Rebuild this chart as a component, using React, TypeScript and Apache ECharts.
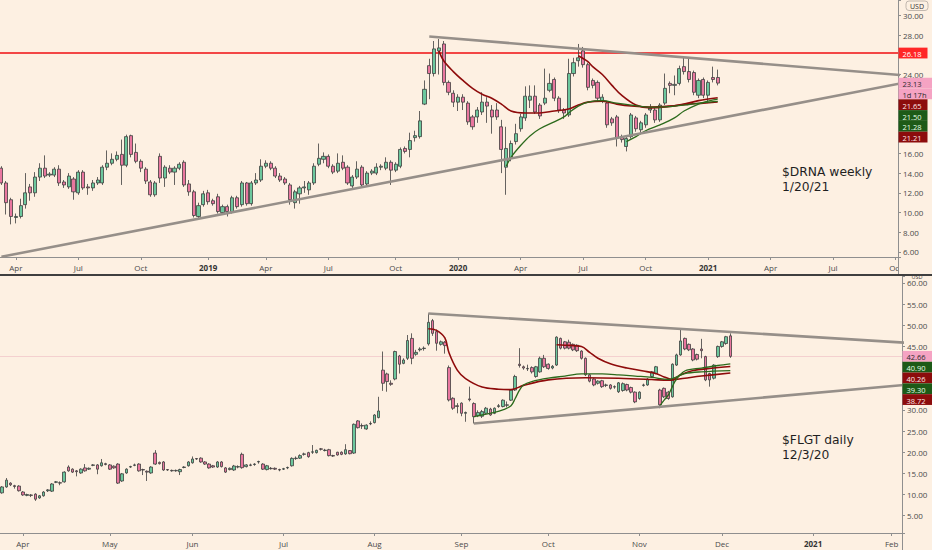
import React, { useEffect, useRef } from 'react';
import * as echarts from 'echarts';

// ---------- categories ----------
const MONTHS = ['Jan', 'Feb', 'Mar', 'Apr', 'May', 'Jun', 'Jul', 'Aug', 'Sep', 'Oct', 'Nov', 'Dec'];
const WEEK_START = '2018-03-12';
const WEEK_COUNT = 187;
const DAY_START = '2020-03-24';
const DAY_END = '2021-02-03';
const HOLIDAYS = ['2020-04-10', '2020-05-25', '2020-07-03', '2020-09-07', '2020-11-26', '2020-12-25', '2021-01-01', '2021-01-18'];

// ---------- $DRNA weekly candles [open, close, low, high] ----------
const DRNA_OHLC = [
  [14.5, 13.0, 12.8, 14.7], [13.0, 11.0, 9.8, 13.2], [11.3, 9.6, 8.8, 11.5], [9.5, 9.6, 8.9, 9.9],
  [9.6, 10.7, 9.4, 11.4], [10.8, 12.0, 10.4, 14.0], [12.6, 12.0, 11.2, 12.9], [12.0, 13.6, 11.6, 14.1],
  [13.6, 14.5, 13.2, 15.0], [14.5, 13.7, 13.5, 15.8], [13.8, 13.9, 13.6, 14.1], [13.8, 14.4, 13.6, 14.6],
  [14.4, 13.0, 12.7, 14.8], [13.1, 12.8, 12.5, 13.3], [12.6, 13.7, 12.4, 14.0], [13.4, 12.1, 11.3, 13.6],
  [12.0, 14.1, 11.8, 14.3], [14.1, 12.5, 12.3, 14.3], [12.6, 12.5, 11.8, 12.9], [12.5, 13.0, 12.2, 13.3],
  [13.0, 13.3, 12.8, 13.6], [13.0, 14.6, 12.8, 14.8], [14.6, 15.0, 14.3, 16.3], [15.0, 15.4, 14.8, 16.0],
  [15.4, 15.8, 15.2, 16.2], [15.9, 14.8, 12.8, 17.4], [14.8, 17.7, 14.6, 17.9], [17.8, 15.9, 15.6, 17.9],
  [16.1, 15.2, 15.0, 17.0], [15.2, 14.5, 14.1, 15.4], [14.4, 13.2, 12.9, 14.6], [13.1, 11.8, 11.6, 13.3],
  [11.8, 13.0, 11.6, 13.2], [15.7, 13.5, 13.0, 16.0], [13.5, 14.6, 12.6, 14.8], [14.5, 14.1, 13.9, 14.8],
  [14.1, 14.5, 12.8, 14.7], [14.5, 14.9, 14.3, 15.1], [15.1, 12.8, 12.6, 15.3], [12.9, 12.1, 11.7, 13.3],
  [12.1, 9.7, 9.5, 12.3], [9.6, 10.7, 9.4, 11.0], [10.8, 11.9, 10.6, 12.2], [12.0, 11.1, 10.8, 12.3],
  [11.2, 10.9, 10.7, 11.4], [11.6, 10.1, 9.9, 11.9], [10.0, 10.6, 9.8, 10.8], [10.6, 10.1, 9.6, 10.8],
  [10.1, 11.5, 9.9, 11.7], [11.5, 10.6, 10.4, 11.7], [10.8, 13.0, 10.6, 13.2], [13.0, 10.9, 10.7, 13.1],
  [10.9, 13.0, 10.7, 13.2], [13.0, 13.3, 12.8, 14.0], [13.3, 14.7, 13.1, 15.4], [14.7, 15.0, 14.5, 15.3],
  [15.0, 14.5, 14.3, 15.2], [14.5, 13.7, 13.5, 14.7], [13.7, 13.3, 13.1, 14.0], [13.4, 13.0, 12.8, 13.6],
  [12.8, 11.3, 10.8, 13.0], [11.0, 12.1, 10.4, 12.3], [11.9, 12.5, 10.9, 12.7], [12.5, 12.6, 12.0, 13.2],
  [12.3, 13.0, 11.8, 13.2], [13.0, 14.7, 12.8, 15.0], [14.9, 15.5, 14.7, 17.0], [15.4, 15.7, 15.0, 16.1],
  [15.7, 14.7, 14.5, 15.9], [14.7, 14.1, 13.9, 14.9], [14.2, 15.0, 14.0, 16.0], [15.1, 14.5, 14.3, 15.8],
  [14.6, 13.0, 12.8, 14.8], [12.7, 13.6, 12.5, 13.8], [13.6, 14.4, 13.4, 15.2], [14.6, 12.8, 12.6, 14.8],
  [12.9, 14.0, 12.7, 14.2], [14.0, 14.2, 13.8, 14.4], [14.0, 14.6, 13.8, 15.0], [14.6, 14.7, 14.3, 14.9],
  [14.5, 15.1, 14.3, 15.6], [15.1, 14.3, 12.8, 15.3], [14.3, 14.9, 14.1, 15.1], [14.7, 16.4, 14.5, 16.6],
  [16.5, 16.2, 16.0, 16.7], [16.4, 17.3, 15.6, 18.1], [17.6, 17.8, 17.2, 18.3], [17.7, 19.3, 17.5, 20.3],
  [21.0, 22.5, 20.9, 23.4], [24.9, 24.1, 21.5, 25.6], [24.1, 26.6, 23.8, 27.4], [26.4, 26.7, 24.0, 27.6],
  [27.1, 23.2, 22.9, 27.4], [23.2, 22.2, 21.9, 23.4], [22.1, 21.2, 20.7, 22.4], [21.2, 21.7, 20.3, 22.0],
  [21.7, 21.2, 20.4, 22.0], [21.1, 19.2, 18.9, 21.3], [19.7, 18.7, 18.4, 19.9], [19.7, 20.4, 19.1, 20.7],
  [20.2, 21.2, 19.9, 22.2], [21.2, 20.8, 19.1, 21.7], [20.4, 19.7, 18.0, 20.9], [20.4, 19.7, 19.4, 21.1],
  [18.7, 16.4, 14.0, 19.4], [14.6, 16.5, 11.8, 18.7], [15.5, 17.0, 15.2, 17.3], [17.2, 18.0, 16.9, 19.0],
  [18.5, 19.7, 18.2, 20.0], [19.6, 21.8, 19.3, 22.8], [21.4, 21.8, 20.6, 22.9], [21.8, 20.2, 20.0, 22.9],
  [20.9, 19.8, 19.5, 21.1], [21.1, 21.6, 20.9, 24.6], [22.4, 23.1, 22.2, 24.1], [23.5, 21.6, 21.3, 23.7],
  [21.6, 20.4, 20.1, 21.8], [20.4, 20.1, 19.5, 20.6], [19.9, 24.1, 19.7, 25.6], [24.1, 25.2, 23.8, 25.7],
  [25.4, 25.7, 24.8, 27.1], [26.4, 25.0, 24.7, 26.8], [25.0, 22.7, 22.4, 25.2], [23.4, 22.9, 22.6, 23.6],
  [23.2, 21.6, 21.3, 23.4], [21.3, 21.7, 21.1, 22.0], [21.1, 18.9, 18.6, 21.3], [19.5, 19.1, 18.8, 19.7],
  [19.7, 17.6, 16.7, 19.9], [17.7, 17.4, 17.1, 17.9], [16.7, 17.5, 16.2, 17.7], [17.7, 19.9, 17.5, 20.1],
  [19.6, 18.5, 18.2, 19.8], [18.4, 19.1, 18.1, 19.3], [18.9, 19.9, 18.6, 20.1], [20.4, 20.6, 20.1, 21.0],
  [20.4, 19.4, 19.1, 20.6], [19.4, 20.9, 19.2, 21.1], [21.1, 22.6, 20.9, 24.1], [23.1, 22.9, 22.1, 23.3],
  [22.9, 23.0, 21.9, 23.9], [23.1, 24.6, 22.9, 24.9], [24.8, 24.3, 24.0, 25.7], [24.3, 23.5, 23.2, 25.7],
  [24.2, 22.2, 21.9, 24.4], [21.9, 23.4, 21.6, 23.6], [23.5, 21.9, 21.6, 23.7], [21.9, 23.2, 21.1, 23.4],
  [23.7, 23.5, 23.2, 24.8], [23.7, 23.13, 22.9, 24.5],
];

// $DRNA moving averages, sampled [week index, price]
const DRNA_MA_RED_A = [[91, 26.4], [92, 25.4], [94, 24.3], [96, 23.4], [98, 22.6], [100, 22.0], [102, 21.6], [104, 21.0], [106, 20.3], [109, 20.1], [112, 20.1], [115, 20.3], [118, 20.5], [120, 20.9], [122, 21.2], [125, 21.3], [128, 21.0], [131, 20.8], [135, 20.7], [139, 20.8], [143, 21.0], [146, 21.1], [149, 21.21]];
const DRNA_MA_RED_B = [[120, 25.9], [122, 25.3], [123, 24.8], [125, 24.0], [127, 22.9], [129, 21.9], [132, 20.9], [135, 20.6], [138, 20.7], [142, 21.0], [145, 21.35], [149, 21.65]];
const DRNA_MA_GREEN_C = [[105, 14.7], [106, 15.6], [108, 16.8], [110, 17.8], [112, 18.5], [115, 19.2], [117, 19.7], [118, 20.1], [120, 20.8], [122, 21.2], [125, 21.35], [128, 21.1], [131, 20.9], [135, 20.7], [139, 20.75], [143, 20.95], [146, 21.15], [149, 21.28]];
const DRNA_MA_GREEN_D = [[130, 17.2], [132, 17.7], [134, 18.3], [137, 18.9], [140, 19.6], [142, 20.3], [145, 21.0], [147, 21.3], [149, 21.5]];
const DRNA_TREND_UPPER = [[89, 27.85], [186.5, 23.95]];
const DRNA_TREND_LOWER = [[-0.3, 5.52], [186.5, 23.1]];
const DRNA_RESIST = 26.18;
const DRNA_LAST = 23.13;

// ---------- $FLGT daily candles [open, close, low, high] ----------
const FLGT_OHLC = [
  [9.6, 10.4, 9.3, 10.6], [10.4, 11.8, 10.2, 12.0], [11.8, 13.4, 11.6, 13.9], [12.7, 12.3, 12.0, 12.9],
  [12.1, 11.9, 11.4, 12.3], [12.0, 10.9, 10.7, 12.2], [10.6, 9.9, 9.7, 10.8], [9.8, 10.0, 9.6, 10.2],
  [9.9, 9.8, 9.4, 10.1], [10.1, 8.9, 8.5, 10.3], [9.2, 9.7, 9.0, 9.9], [9.7, 10.6, 9.5, 10.8],
  [10.9, 11.1, 10.6, 11.3], [10.8, 12.5, 10.6, 12.7], [12.9, 13.0, 12.7, 13.2], [12.8, 12.7, 12.2, 13.1],
  [13.0, 15.3, 12.8, 15.5], [16.5, 15.6, 15.4, 16.9], [16.0, 15.3, 15.1, 16.2], [15.6, 15.4, 14.3, 15.8],
  [15.1, 16.0, 14.9, 16.2], [16.3, 15.6, 15.4, 17.2], [16.0, 16.2, 15.8, 16.4], [16.9, 17.0, 16.7, 17.2],
  [17.0, 16.0, 14.8, 17.2], [16.8, 17.5, 16.6, 18.4], [17.3, 17.1, 16.9, 17.5], [17.0, 16.0, 15.8, 17.2],
  [16.7, 16.3, 16.1, 16.9], [17.2, 12.7, 12.5, 17.4], [13.2, 14.9, 13.0, 15.1], [15.1, 16.0, 14.9, 16.2],
  [16.5, 16.6, 16.3, 16.8], [16.9, 17.0, 16.7, 17.3], [17.2, 15.6, 15.4, 17.4], [15.9, 15.8, 14.6, 16.1],
  [15.5, 15.3, 13.2, 15.7], [15.1, 16.5, 14.9, 16.7], [19.8, 17.2, 17.0, 20.5], [17.6, 17.3, 17.1, 17.8],
  [17.7, 15.8, 15.6, 17.9], [15.9, 15.8, 15.6, 16.0], [15.7, 15.6, 15.4, 15.9], [15.6, 15.7, 15.4, 15.9],
  [15.4, 15.9, 14.6, 16.1], [16.4, 16.5, 16.2, 16.7], [16.8, 17.7, 16.6, 17.9], [17.5, 18.4, 17.3, 19.0],
  [18.5, 18.4, 18.2, 18.6], [18.6, 17.7, 17.5, 18.8], [17.7, 17.2, 17.0, 17.9], [17.2, 16.3, 16.1, 17.4],
  [16.8, 16.5, 16.3, 17.0], [16.5, 17.7, 16.3, 17.9], [17.7, 16.6, 16.4, 17.9], [16.3, 15.3, 15.1, 16.5],
  [15.9, 16.2, 15.7, 16.4], [15.8, 16.75, 15.6, 17.0], [16.5, 16.6, 16.2, 16.9], [19.5, 16.35, 16.1, 19.9],
  [16.6, 17.0, 16.4, 17.2], [17.0, 16.9, 16.7, 17.3], [17.1, 17.2, 16.8, 17.4], [17.7, 17.8, 17.3, 18.0],
  [17.2, 16.0, 15.8, 17.4], [15.9, 16.8, 15.7, 17.0], [16.2, 16.1, 15.9, 16.5], [16.2, 16.0, 15.8, 16.4],
  [15.9, 15.8, 15.5, 16.1], [16.0, 16.1, 15.8, 16.3], [16.3, 16.4, 16.0, 16.6], [16.8, 18.55, 16.6, 18.8],
  [18.5, 18.6, 18.2, 19.0], [18.6, 19.2, 18.4, 19.5], [19.5, 19.6, 19.2, 19.9], [19.9, 18.95, 18.7, 20.1],
  [20.0, 20.1, 19.6, 21.7], [19.9, 20.45, 19.7, 20.6], [20.8, 20.7, 20.4, 21.0], [20.4, 20.5, 20.2, 20.8],
  [20.6, 19.2, 19.0, 20.8], [19.2, 19.1, 18.9, 19.4], [20.0, 19.35, 19.2, 20.1], [20.0, 19.5, 19.3, 20.2],
  [19.6, 20.6, 19.4, 21.9], [20.4, 19.65, 19.5, 20.5], [19.8, 26.6, 19.6, 26.8], [27.4, 25.8, 25.6, 27.6],
  [26.3, 26.2, 25.5, 26.8], [25.5, 26.4, 25.3, 26.6], [26.7, 26.8, 26.4, 27.3], [27.0, 28.8, 26.8, 29.0],
  [28.2, 29.75, 28.0, 33.1], [39.4, 36.3, 34.5, 43.8], [38.5, 36.7, 34.3, 38.8], [36.3, 36.05, 35.7, 37.0],
  [37.3, 43.8, 37.0, 44.0], [42.75, 40.8, 38.6, 43.0], [41.0, 41.8, 40.8, 42.2], [42.2, 46.4, 41.8, 47.7],
  [46.9, 42.2, 40.8, 48.1], [43.15, 43.6, 42.8, 44.2], [44.2, 44.4, 43.8, 44.8], [44.5, 44.6, 44.0, 45.0],
  [45.6, 50.7, 45.2, 52.8], [51.1, 48.1, 47.5, 51.5], [48.5, 45.75, 44.0, 49.0], [45.5, 46.1, 45.2, 46.4],
  [46.0, 45.2, 43.3, 46.3], [40.0, 32.35, 32.0, 40.5], [32.75, 30.4, 30.0, 33.0], [31.0, 30.8, 29.2, 31.6],
  [31.6, 29.2, 28.5, 31.8], [29.2, 29.4, 27.2, 29.6], [32.6, 32.4, 32.0, 35.5], [31.5, 28.4, 26.8, 31.8],
  [28.6, 29.4, 28.3, 29.9], [28.5, 29.6, 28.1, 30.0], [29.2, 30.4, 29.0, 30.7], [30.2, 28.8, 28.6, 30.5],
  [29.2, 30.4, 29.0, 30.6], [30.8, 31.0, 30.5, 31.4], [30.8, 32.3, 30.6, 32.5], [31.1, 31.2, 30.6, 32.0],
  [32.3, 34.7, 32.1, 34.9], [34.7, 37.9, 34.5, 38.3], [40.8, 40.5, 40.0, 44.6], [40.2, 39.9, 39.5, 40.5],
  [39.7, 39.8, 39.2, 40.7], [40.0, 39.0, 38.6, 40.3], [37.9, 40.2, 37.6, 40.4], [39.0, 42.2, 38.8, 42.6],
  [42.2, 40.2, 39.9, 43.0], [40.8, 39.8, 39.5, 41.0], [39.9, 40.3, 39.6, 40.6], [40.6, 47.2, 40.4, 47.4],
  [46.9, 44.6, 44.3, 47.1], [46.1, 44.6, 44.3, 46.3], [46.0, 44.6, 44.3, 46.6], [45.5, 44.2, 43.9, 45.7],
  [45.3, 44.0, 43.7, 45.5], [43.9, 42.2, 41.9, 44.1], [42.2, 38.3, 38.0, 42.4], [38.3, 36.8, 36.5, 38.5],
  [37.3, 35.9, 35.6, 37.5], [36.3, 36.8, 36.0, 37.0], [36.9, 35.5, 35.2, 37.1], [35.8, 35.9, 35.4, 36.2],
  [35.9, 35.1, 34.8, 36.1], [35.4, 35.5, 35.0, 35.8], [34.3, 36.4, 34.0, 36.6], [34.6, 36.2, 34.3, 36.5],
  [36.0, 34.7, 34.4, 36.2], [35.3, 34.2, 33.9, 35.5], [34.2, 31.9, 31.6, 34.4], [32.7, 34.2, 32.4, 34.4],
  [35.8, 35.9, 35.5, 36.2], [35.9, 37.3, 35.7, 37.5], [37.9, 39.0, 37.7, 39.2], [38.6, 40.2, 38.4, 40.4],
  [34.7, 31.2, 30.4, 35.0], [35.1, 33.1, 32.8, 35.3], [34.2, 32.7, 32.4, 34.5], [33.1, 40.8, 32.9, 41.0],
  [40.6, 43.0, 40.4, 43.3], [43.0, 46.3, 42.8, 49.1], [46.9, 44.4, 44.1, 47.1], [45.5, 44.2, 43.9, 45.7],
  [44.4, 41.8, 41.5, 44.6], [43.1, 42.0, 41.7, 43.3], [44.4, 44.0, 42.2, 46.8], [42.6, 37.1, 36.8, 42.8],
  [38.6, 37.1, 35.5, 38.8], [37.5, 40.6, 37.2, 40.8], [42.6, 45.0, 42.3, 45.2], [45.0, 46.1, 44.7, 46.3],
  [45.7, 47.3, 45.4, 47.5], [47.5, 42.66, 42.3, 48.1],
];

// $FLGT moving averages, sampled [day index, price]
const FLGT_MA_RED_A = [[104, 49.2], [106, 48.8], [108, 47.0], [109, 43.5], [111, 39.4], [113, 37.4], [117, 35.4], [121, 34.9], [124, 34.8], [127, 35.8], [133, 37.1], [142, 37.6], [150, 37.5], [158, 37.2], [162, 37.0], [166, 37.5], [170, 38.0], [177, 38.72]];
const FLGT_MA_RED_B = [[135, 45.4], [137, 45.3], [141, 45.0], [143, 43.6], [145, 42.2], [148, 40.9], [152, 39.9], [156, 39.2], [159, 38.6], [161, 37.8], [163, 37.2], [165, 38.3], [168, 39.3], [172, 39.8], [177, 40.26]];
const FLGT_MA_GREEN_C = [[115, 28.4], [117, 28.8], [120, 29.4], [122, 30.0], [124, 31.0], [125, 32.7], [126, 34.6], [127, 35.9], [129, 36.7], [133, 37.5], [137, 38.0], [141, 38.5], [146, 38.5], [150, 38.3], [154, 38.0], [158, 37.7], [162, 37.2], [164, 37.8], [166, 38.6], [170, 39.0], [177, 39.3]];
const FLGT_MA_GREEN_D = [[160, 31.0], [161, 32.3], [162, 33.5], [163, 35.5], [164, 37.3], [166, 39.2], [170, 39.9], [174, 40.5], [177, 40.9]];
const FLGT_TREND_UPPER = [[104, 52.8], [218.5, 45.9]];
const FLGT_TREND_LOWER = [[115, 26.8], [218.5, 35.9]];
const FLGT_LAST = 42.66;

// ---------- notes ----------
const DRNA_NOTE = ['$DRNA weekly', '1/20/21'];
const FLGT_NOTE = ['$FLGT daily', '12/3/20'];

// ---------- styles ----------
const FONT = 'Open Sans';
const NOTE_FONT = 'DejaVu Sans';
const BG = '#fdf0e2';
const UP = '#6cc79d';
const DOWN = '#e9779f';
const WICK = '#3d3d3d';
const MA_RED = '#8e0b0b';
const MA_GREEN = '#2c6a1c';
const TREND = '#968f89';
const RESIST = '#f23c3c';
const AXIS = '#8f8f8f';
const LABEL = '#4a4a4a';
const PINK_TAG = '#f5a3c3';
const DARK_RED_TAG = '#8c0c0c';
const DARK_GREEN_TAG = '#1d5a17';
const RED_TAG = '#ff2626';
const TAG_H = 10.8;

const DRNA_TAGS = [
  { label: '26.18', value: DRNA_RESIST, bg: RED_TAG, fg: '#ffffff', w: 29 },
  { label: '23.13', value: DRNA_LAST, bg: PINK_TAG, fg: '#2b2b2b', w: 34 },
  { label: '1d 17h', value: DRNA_LAST, bg: PINK_TAG, fg: '#2b2b2b', w: 34 },
  { label: '21.65', value: 21.65, bg: DARK_RED_TAG, fg: '#ffe6e6', w: 29 },
  { label: '21.50', value: 21.5, bg: DARK_GREEN_TAG, fg: '#e6ffe6', w: 29 },
  { label: '21.28', value: 21.28, bg: DARK_GREEN_TAG, fg: '#e6ffe6', w: 29 },
  { label: '21.21', value: 21.21, bg: DARK_RED_TAG, fg: '#ffe6e6', w: 29 },
];
const FLGT_TAGS = [
  { label: '42.66', value: FLGT_LAST, bg: PINK_TAG, fg: '#2b2b2b', w: 30 },
  { label: '40.90', value: 40.9, bg: DARK_GREEN_TAG, fg: '#e6ffe6', w: 30 },
  { label: '40.26', value: 40.26, bg: DARK_RED_TAG, fg: '#ffe6e6', w: 30 },
  { label: '39.30', value: 39.3, bg: DARK_GREEN_TAG, fg: '#e6ffe6', w: 30 },
  { label: '38.72', value: 38.72, bg: DARK_RED_TAG, fg: '#ffe6e6', w: 30 },
];

// ---------- helpers ----------
const DAY_MS = 86400000;
const iso = (t: number) => new Date(t).toISOString().slice(0, 10);
function weeklyDates(start: string, count: number) {
  const t0 = Date.parse(start + 'T00:00:00Z');
  const out: string[] = [];
  for (let i = 0; i < count; i++) out.push(iso(t0 + i * 7 * DAY_MS));
  return out;
}
function tradingDates(start: string, end: string, holidays: string[]) {
  const out: string[] = [];
  let t = Date.parse(start + 'T00:00:00Z');
  const te = Date.parse(end + 'T00:00:00Z');
  while (t <= te) {
    const wd = new Date(t).getUTCDay();
    const s = iso(t);
    if (wd !== 0 && wd !== 6 && holidays.indexOf(s) < 0) out.push(s);
    t += DAY_MS;
  }
  return out;
}
const monthOf = (s: string) => Number(s.slice(5, 7)) - 1;

const WEEKS = weeklyDates(WEEK_START, WEEK_COUNT);
const DAYS = tradingDates(DAY_START, DAY_END, HOLIDAYS);

const weekLabelAt = (i: number) => i > 0 && monthOf(WEEKS[i]) !== monthOf(WEEKS[i - 1]) && monthOf(WEEKS[i]) % 3 === 0;
const dayLabelAt = (i: number) => i > 0 && monthOf(DAYS[i]) !== monthOf(DAYS[i - 1]);
const dateLabel = (v: string) => {
  const m = monthOf(v);
  return m === 0 ? '{y|' + v.slice(0, 4) + '}' : MONTHS[m];
};

function xAxisFor(gridIndex: number, data: string[], show: (i: number) => boolean) {
  return {
    type: 'category', gridIndex, data, boundaryGap: true,
    axisLine: { show: true, lineStyle: { color: AXIS, width: 1 } },
    axisTick: { show: true, interval: (i: number) => show(i), length: 3, alignWithLabel: true, lineStyle: { color: AXIS } },
    axisLabel: {
      interval: (i: number) => show(i), formatter: (v: string) => dateLabel(v),
      fontSize: 8, color: LABEL, margin: 6, fontFamily: FONT,
      rich: { y: { fontSize: 8, fontWeight: 'bold', color: '#333333', fontFamily: FONT } },
    },
    splitLine: { show: false },
  };
}
const priceLabel = (step: number, hidden: number[]) => (v: number) => {
  const onStep = Math.abs(v / step - Math.round(v / step)) < 1e-6;
  const covered = hidden.some((h) => Math.abs(h - v) < 1e-6);
  return onStep && !covered ? v.toFixed(2) : '';
};
function yAxisFor(gridIndex: number, min: number, max: number, step: number) {
  return {
    type: 'value', gridIndex, position: 'right', min, max,
    minInterval: step, maxInterval: step, splitNumber: Math.round((max - min) / step),
    axisLine: { show: true, lineStyle: { color: AXIS, width: 1 } },
    axisTick: { show: true, length: 3, lineStyle: { color: AXIS } },
    axisLabel: { fontSize: 8, color: LABEL, margin: 5, fontFamily: FONT, formatter: priceLabel(step, []) },
    splitLine: { show: false },
  };
}
function candles(axis: number, data: number[][], width: number, markLineData: any[]) {
  return {
    type: 'candlestick', xAxisIndex: axis, yAxisIndex: axis, data, barWidth: width, z: 2,
    itemStyle: { color: UP, color0: DOWN, borderColor: WICK, borderColor0: WICK, borderWidth: 0.8 },
    markLine: { silent: true, symbol: ['none', 'none'], label: { show: false }, data: markLineData, z: 1 },
  };
}
function curve(axis: number, data: number[][], color: string, width: number) {
  return {
    type: 'line', xAxisIndex: axis, yAxisIndex: axis, data, smooth: 0.35, showSymbol: false,
    symbol: 'none', lineStyle: { color, width }, z: 4, silent: true,
  };
}
function trend(axis: number, data: number[][]) {
  return {
    type: 'line', xAxisIndex: axis, yAxisIndex: axis, data, showSymbol: false, symbol: 'none',
    lineStyle: { color: TREND, width: 2.6 }, z: 5, silent: true,
  };
}

const Y_RANGES = [
  { min: 5.49, max: 31.56, step: 2 },
  { min: 0.91, max: 61.65, step: 5 },
];

function buildOption() {
  return {
    animation: false,
    backgroundColor: BG,
    textStyle: { fontFamily: FONT },
    grid: [
      { left: -1, top: 0, width: 899, height: 257, containLabel: false, outerBoundsMode: 'none' },
      { left: -4, top: 276, width: 906, height: 257, containLabel: false, outerBoundsMode: 'none' },
    ],
    xAxis: [xAxisFor(0, WEEKS, weekLabelAt), xAxisFor(1, DAYS, dayLabelAt)],
    yAxis: Y_RANGES.map((r, i) => yAxisFor(i, r.min, r.max, r.step)),
    series: [
      candles(0, DRNA_OHLC, 3.6, [{ yAxis: DRNA_RESIST, lineStyle: { color: RESIST, width: 2.2, type: 'solid', opacity: 0.95 } }]),
      curve(0, DRNA_MA_RED_A, MA_RED, 1.6),
      curve(0, DRNA_MA_RED_B, MA_RED, 1.6),
      curve(0, DRNA_MA_GREEN_C, MA_GREEN, 1.3),
      curve(0, DRNA_MA_GREEN_D, MA_GREEN, 1.3),
      trend(0, DRNA_TREND_UPPER),
      trend(0, DRNA_TREND_LOWER),
      candles(1, FLGT_OHLC, 3.1, [{ yAxis: FLGT_LAST, lineStyle: { color: 'rgba(226,150,172,0.35)', width: 1, type: 'solid' } }]),
      curve(1, FLGT_MA_RED_A, MA_RED, 1.6),
      curve(1, FLGT_MA_RED_B, MA_RED, 1.6),
      curve(1, FLGT_MA_GREEN_C, MA_GREEN, 1.3),
      curve(1, FLGT_MA_GREEN_D, MA_GREEN, 1.3),
      trend(1, FLGT_TREND_UPPER),
      trend(1, FLGT_TREND_LOWER),
    ],
  };
}

function buildOverlay(chart: echarts.ECharts) {
  const els: any[] = [];
  const Z = 60;
  const hidden: number[][] = [[], []];
  // panel divider and axis extensions
  els.push({ type: 'rect', z: Z - 10, shape: { x: 898, y: 258, width: 34, height: 16 }, style: { fill: BG } });
  els.push({ type: 'line', z: Z, shape: { x1: 898.5, y1: 257, x2: 898.5, y2: 274 }, style: { stroke: AXIS, lineWidth: 1 } });
  els.push({ type: 'line', z: Z, shape: { x1: 902.5, y1: 533, x2: 902.5, y2: 550 }, style: { stroke: AXIS, lineWidth: 1 } });
  els.push({ type: 'rect', z: Z, shape: { x: 0, y: 274, width: 932, height: 2 }, style: { fill: '#3f3f3f' } });
  // currency labels
  els.push({ type: 'rect', z: Z, shape: { x: 906, y: 1, width: 22, height: 9.5, r: 3 }, style: { fill: BG, stroke: '#b3aaa2', lineWidth: 0.8 } });
  els.push({ type: 'text', z: Z + 1, x: 917, y: 6, style: { text: 'USD', fill: '#333333', fontSize: 7, fontFamily: FONT, align: 'center', verticalAlign: 'middle' } });
  els.push({ type: 'text', z: Z + 1, x: 917, y: 276.8, style: { text: 'USD', fill: '#444444', fontSize: 5.5, fontFamily: FONT, align: 'center', verticalAlign: 'middle' } });
  // price tags, stacked below each other the way the platform avoids collisions
  const addTags = (tags: typeof DRNA_TAGS, axis: number, x0: number) => {
    const toPx = (v: number) => chart.convertToPixel({ yAxisIndex: axis } as any, v) as unknown as number;
    const centers: number[] = [];
    let prev = -Infinity;
    tags.forEach((t) => {
      const y = Math.max(toPx(t.value), prev + TAG_H);
      prev = y;
      centers.push(y);
      els.push({ type: 'rect', z: Z, shape: { x: x0, y: y - TAG_H / 2, width: t.w, height: TAG_H }, style: { fill: t.bg } });
      els.push({ type: 'text', z: Z + 1, x: x0 + 4, y: y + 1, style: { text: t.label, fill: t.fg, fontSize: 7.5, fontFamily: FONT, align: 'left', verticalAlign: 'middle' } });
    });
    // axis prices that sit under a tag are not shown, as on the platform
    const r = Y_RANGES[axis];
    for (let v = Math.ceil(r.min / r.step) * r.step; v <= r.max; v += r.step) {
      const py = toPx(v);
      if (centers.some((c) => Math.abs(c - py) < TAG_H / 2 + 2)) hidden[axis].push(v);
    }
  };
  addTags(DRNA_TAGS, 0, 898.5);
  addTags(FLGT_TAGS, 1, 902.5);
  // chart notes, one text per line
  const note = (lines: string[], x: number, y: number) => lines.forEach((s, k) => {
    els.push({ type: 'text', z: Z, x, y: y + k * 15, style: { text: s, fill: '#1f1f1f', fontSize: 12.3, fontFamily: NOTE_FONT, align: 'left', verticalAlign: 'middle' } });
  });
  note(DRNA_NOTE, 782, 171.5);
  note(FLGT_NOTE, 782, 439.5);
  return {
    graphic: els,
    yAxis: Y_RANGES.map((r, i) => ({ axisLabel: { formatter: priceLabel(r.step, hidden[i]) } })),
  };
}

export default function App() {
  const ref = useRef<HTMLDivElement>(null);
  useEffect(() => {
    document.body.style.margin = '0';
    const chart = echarts.init(ref.current as HTMLDivElement, null, { renderer: 'svg' });
    chart.setOption(buildOption() as any);
    chart.setOption(buildOverlay(chart) as any);
    return () => chart.dispose();
  }, []);
  return <div ref={ref} style={{ width: 932, height: 550 }} />;
}
